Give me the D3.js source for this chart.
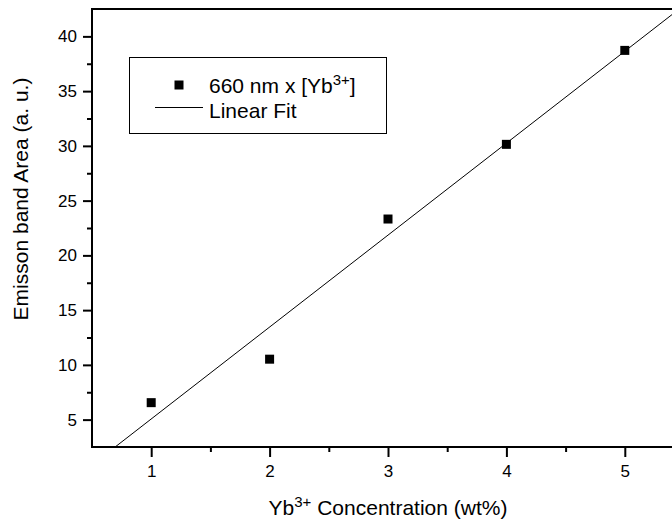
<!DOCTYPE html>
<html>
<head>
<meta charset="utf-8">
<script src="https://cdn.jsdelivr.net/npm/d3@7"></script>
<style>
  body { margin: 0; background: #fff; }
  svg { display: block; font-family: Arial, "Liberation Sans", sans-serif; }
</style>
</head>
<body>
<div id="chart"></div>
<script>
// data
const concentration = [1, 2, 3, 4, 5];
const emissionArea = [6.55, 10.52, 23.32, 30.14, 38.72];
const xMajorTicks = [1, 2, 3, 4, 5];
const xMinorTicks = [1.5, 2.5, 3.5, 4.5];
const yMajorTicks = [5, 10, 15, 20, 25, 30, 35, 40];
const yMinorTicks = [7.5, 12.5, 17.5, 22.5, 27.5, 32.5, 37.5];

const width = 672, height = 519;
const plotLeft = 92, plotTop = 9, plotBottom = 447, plotRight = 684; // right edge falls outside the picture

const x = d3.scaleLinear().domain([0.5, 5.5]).range([plotLeft, plotRight]);
const y = d3.scaleLinear().domain([2.5, 42.5]).range([plotBottom, plotTop]);

// least squares fit of the points
const mx = d3.mean(concentration), my = d3.mean(emissionArea);
const slope = d3.sum(concentration, (c, i) => (c - mx) * (emissionArea[i] - my)) /
              d3.sum(concentration, c => (c - mx) * (c - mx));
const intercept = my - slope * mx;

const svg = d3.select("#chart").append("svg")
    .attr("width", width)
    .attr("height", height);

svg.append("defs").append("clipPath")
    .attr("id", "plot")
  .append("rect")
    .attr("x", plotLeft).attr("y", plotTop)
    .attr("width", plotRight - plotLeft).attr("height", plotBottom - plotTop);

// fit line
const fitX = x.domain();
svg.append("line")
    .attr("clip-path", "url(#plot)")
    .attr("x1", x(fitX[0])).attr("y1", y(slope * fitX[0] + intercept))
    .attr("x2", x(fitX[1])).attr("y2", y(slope * fitX[1] + intercept))
    .attr("stroke", "#000")
    .attr("stroke-width", 1);

// points
const size = 9;
svg.append("g")
  .selectAll("rect")
  .data(concentration)
  .join("rect")
    .attr("x", d => x(d) - size / 2)
    .attr("y", (d, i) => y(emissionArea[i]) - size / 2)
    .attr("width", size)
    .attr("height", size)
    .attr("fill", "#000");

// frame
svg.append("rect")
    .attr("x", plotLeft).attr("y", plotTop)
    .attr("width", plotRight - plotLeft).attr("height", plotBottom - plotTop)
    .attr("fill", "none")
    .attr("stroke", "#000")
    .attr("stroke-width", 2);

function styleAxis(g) {
  g.select(".domain").remove();
  g.selectAll(".tick line").attr("stroke", "#000").attr("stroke-width", 2);
  g.selectAll("text").attr("fill", "#000").style("font-size", "17px")
    .style("font-family", "Arial, 'Liberation Sans', sans-serif");
}

svg.append("g")
    .attr("transform", `translate(0,${plotBottom})`)
    .call(d3.axisBottom(x).tickValues(xMajorTicks).tickSize(10).tickPadding(8).tickFormat(d3.format("d")))
    .call(styleAxis);
svg.append("g")
    .attr("transform", `translate(0,${plotBottom})`)
    .call(d3.axisBottom(x).tickValues(xMinorTicks).tickSize(5).tickFormat(""))
    .call(styleAxis);

svg.append("g")
    .attr("transform", `translate(${plotLeft},0)`)
    .call(d3.axisLeft(y).tickValues(yMajorTicks).tickSize(9).tickPadding(6).tickFormat(d3.format("d")))
    .call(styleAxis);
svg.append("g")
    .attr("transform", `translate(${plotLeft},0)`)
    .call(d3.axisLeft(y).tickValues(yMinorTicks).tickSize(5).tickFormat(""))
    .call(styleAxis);

// axis titles
const xTitle = svg.append("text")
    .attr("x", (plotLeft + plotRight) / 2)
    .attr("y", 515)
    .attr("text-anchor", "middle")
    .style("font-size", "21px");
xTitle.append("tspan").text("Yb");
xTitle.append("tspan").attr("dy", -8).style("font-size", "15px").text("3+");
xTitle.append("tspan").attr("dy", 8).text(" Concentration (wt%)");

svg.append("text")
    .attr("transform", `translate(28,${(68 + 330) / 2}) rotate(-90)`)
    .attr("text-anchor", "middle")
    .style("font-size", "21px")
    .text("Emisson band Area (a. u.)");

// legend
const legend = svg.append("g");
legend.append("rect")
    .attr("x", 129.5).attr("y", 57.5)
    .attr("width", 257).attr("height", 76)
    .attr("fill", "#fff")
    .attr("stroke", "#000")
    .attr("stroke-width", 1);
legend.append("rect")
    .attr("x", 179 - size / 2).attr("y", 85 - size / 2)
    .attr("width", size).attr("height", size)
    .attr("fill", "#000");
const l1 = legend.append("text")
    .attr("x", 209).attr("y", 93)
    .style("font-size", "21px");
l1.append("tspan").text("660 nm x [Yb");
l1.append("tspan").attr("dy", -8).style("font-size", "15px").text("3+");
l1.append("tspan").attr("dy", 8).text("]");
legend.append("line")
    .attr("x1", 155).attr("x2", 203)
    .attr("y1", 107.5).attr("y2", 107.5)
    .attr("stroke", "#000")
    .attr("stroke-width", 1);
legend.append("text")
    .attr("x", 209).attr("y", 118)
    .style("font-size", "21px")
    .text("Linear Fit");
</script>
</body>
</html>
